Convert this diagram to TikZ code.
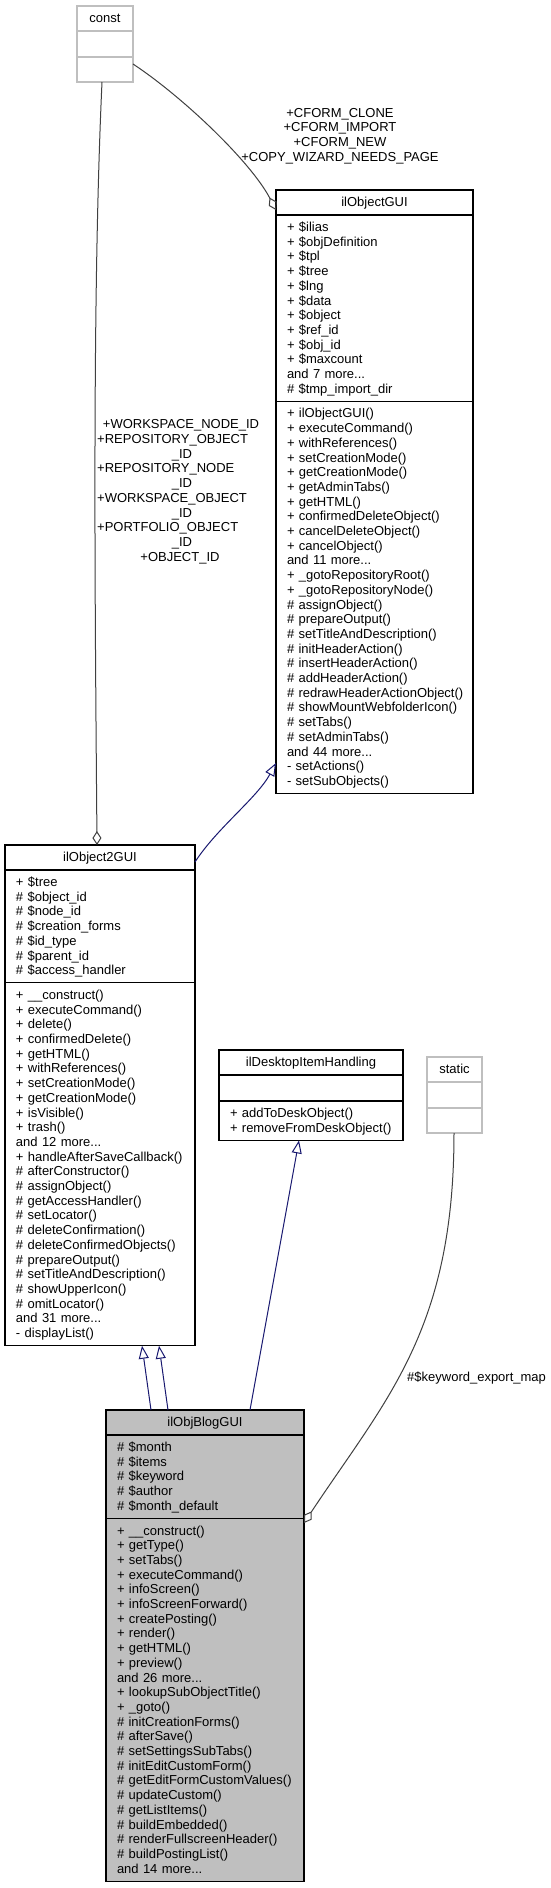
\documentclass[tikz,border=0pt]{standalone}
\usepackage{fontspec}
\setmainfont{Liberation Sans}
\usetikzlibrary{arrows.meta,calc}
\definecolor{edgeblue}{HTML}{191970}
\definecolor{edgegray}{HTML}{404040}
\definecolor{boxgray}{HTML}{BFBFBF}
\newcommand{\fsz}{\fontsize{13pt}{14.7pt}\selectfont}
\newcommand{\cs}{\rule[-3.2pt]{0pt}{14.7pt}}
\newcommand{\ml}[1]{\cs\mbox{#1}}
\begin{document}
\begin{tikzpicture}[x=1pt,y=-1pt,
  sect/.style={draw=black, line width=1.1pt, fill=white, rectangle, anchor=north west,
    inner xsep=11pt, inner ysep=5pt, outer sep=0pt, align=left, font=\fsz, text width=#1},
  ttl/.style={sect=#1, align=center, minimum height=25pt},
  gsect/.style={draw=boxgray, line width=1.1pt, fill=white, rectangle, anchor=north west,
    inner sep=0pt, outer sep=0pt, minimum width=#1},
  gttl/.style={draw=boxgray, line width=1.1pt, fill=white, rectangle, anchor=north west,
    inner xsep=0pt, inner ysep=5pt, outer sep=0pt, align=center, font=\fsz, text width=#1,
    minimum height=25pt},
  esect/.style={draw=black, line width=1.1pt, fill=white, rectangle, anchor=north west,
    inner sep=0pt, outer sep=0pt, minimum width=#1},
  cur/.style={fill=boxgray},
  usage/.style={draw=edgegray, line width=1pt, -{Diamond[open, length=14pt, width=9pt]}},
  inherit/.style={draw=edgeblue, line width=1pt, -{Triangle[open, length=13pt, width=10pt]}},
  lbl/.style={font=\fsz, inner sep=0pt, anchor=base},
  lblw/.style={font=\fsz, inner sep=0pt, anchor=base west}
]
\useasboundingbox (0,0) rectangle (551,1888);
\fill[white] (0,0) rectangle (551,1888);

% const
\node[gttl=56pt] (const-t) at (77,6) {\ml{const}};
\node[gsect=56pt, minimum height=26pt] (const-a) at (const-t.south west) {};
\node[gsect=56pt, minimum height=25pt] (const-m) at (const-a.south west) {};

% ilObjectGUI
\node[ttl=175pt] (ogui-t) at (276,190) {\ml{ilObjectGUI}};
\node[sect=175pt] (ogui-a) at (ogui-t.south west) {%
\ml{+ \$ilias}\\
\ml{+ \$objDefinition}\\
\ml{+ \$tpl}\\
\ml{+ \$tree}\\
\ml{+ \$lng}\\
\ml{+ \$data}\\
\ml{+ \$object}\\
\ml{+ \$ref\_id}\\
\ml{+ \$obj\_id}\\
\ml{+ \$maxcount}\\
\ml{and 7 more...}\\
\ml{\# \$tmp\_import\_dir}};
\node[sect=175pt] (ogui-m) at (ogui-a.south west) {%
\ml{+ ilObjectGUI()}\\
\ml{+ executeCommand()}\\
\ml{+ withReferences()}\\
\ml{+ setCreationMode()}\\
\ml{+ getCreationMode()}\\
\ml{+ getAdminTabs()}\\
\ml{+ getHTML()}\\
\ml{+ confirmedDeleteObject()}\\
\ml{+ cancelDeleteObject()}\\
\ml{+ cancelObject()}\\
\ml{and 11 more...}\\
\ml{+ \_gotoRepositoryRoot()}\\
\ml{+ \_gotoRepositoryNode()}\\
\ml{\# assignObject()}\\
\ml{\# prepareOutput()}\\
\ml{\# setTitleAndDescription()}\\
\ml{\# initHeaderAction()}\\
\ml{\# insertHeaderAction()}\\
\ml{\# addHeaderAction()}\\
\ml{\# redrawHeaderActionObject()}\\
\ml{\# showMountWebfolderIcon()}\\
\ml{\# setTabs()}\\
\ml{\# setAdminTabs()}\\
\ml{and 44 more...}\\
\ml{- setActions()}\\
\ml{- setSubObjects()}};

% ilObject2GUI
\node[ttl=168pt] (o2-t) at (5,845) {\ml{ilObject2GUI}};
\node[sect=168pt] (o2-a) at (o2-t.south west) {%
\ml{+ \$tree}\\
\ml{\# \$object\_id}\\
\ml{\# \$node\_id}\\
\ml{\# \$creation\_forms}\\
\ml{\# \$id\_type}\\
\ml{\# \$parent\_id}\\
\ml{\# \$access\_handler}};
\node[sect=168pt] (o2-m) at (o2-a.south west) {%
\ml{+ \_\_construct()}\\
\ml{+ executeCommand()}\\
\ml{+ delete()}\\
\ml{+ confirmedDelete()}\\
\ml{+ getHTML()}\\
\ml{+ withReferences()}\\
\ml{+ setCreationMode()}\\
\ml{+ getCreationMode()}\\
\ml{+ isVisible()}\\
\ml{+ trash()}\\
\ml{and 12 more...}\\
\ml{+ handleAfterSaveCallback()}\\
\ml{\# afterConstructor()}\\
\ml{\# assignObject()}\\
\ml{\# getAccessHandler()}\\
\ml{\# setLocator()}\\
\ml{\# deleteConfirmation()}\\
\ml{\# deleteConfirmedObjects()}\\
\ml{\# prepareOutput()}\\
\ml{\# setTitleAndDescription()}\\
\ml{\# showUpperIcon()}\\
\ml{\# omitLocator()}\\
\ml{and 31 more...}\\
\ml{- displayList()}};

% ilDesktopItemHandling
\node[ttl=162pt] (desk-t) at (219,1050) {\ml{ilDesktopItemHandling}};
\node[esect=184pt, minimum height=26pt] (desk-a) at (desk-t.south west) {};
\node[sect=162pt] (desk-m) at (desk-a.south west) {%
\ml{+ addToDeskObject()}\\
\ml{+ removeFromDeskObject()}};

% static
\node[gttl=55pt] (static-t) at (427,1057) {\ml{static}};
\node[gsect=55pt, minimum height=26pt] (static-a) at (static-t.south west) {};
\node[gsect=55pt, minimum height=25pt] (static-m) at (static-a.south west) {};

% ilObjBlogGUI
\node[ttl=176pt, cur] (blog-t) at (106,1410) {\ml{ilObjBlogGUI}};
\node[sect=176pt, cur] (blog-a) at (blog-t.south west) {%
\ml{\# \$month}\\
\ml{\# \$items}\\
\ml{\# \$keyword}\\
\ml{\# \$author}\\
\ml{\# \$month\_default}};
\node[sect=176pt, cur] (blog-m) at (blog-a.south west) {%
\ml{+ \_\_construct()}\\
\ml{+ getType()}\\
\ml{+ setTabs()}\\
\ml{+ executeCommand()}\\
\ml{+ infoScreen()}\\
\ml{+ infoScreenForward()}\\
\ml{+ createPosting()}\\
\ml{+ render()}\\
\ml{+ getHTML()}\\
\ml{+ preview()}\\
\ml{and 26 more...}\\
\ml{+ lookupSubObjectTitle()}\\
\ml{+ \_goto()}\\
\ml{\# initCreationForms()}\\
\ml{\# afterSave()}\\
\ml{\# setSettingsSubTabs()}\\
\ml{\# initEditCustomForm()}\\
\ml{\# getEditFormCustomValues()}\\
\ml{\# updateCustom()}\\
\ml{\# getListItems()}\\
\ml{\# buildEmbedded()}\\
\ml{\# renderFullscreenHeader()}\\
\ml{\# buildPostingList()}\\
\ml{and 14 more...}};

% connectors
\draw[usage] ($(const-m.north east)+(0,7)$) .. controls +(50,33) and +(-25,-48) .. ($(ogui-t.west)+(0,7.5)$);
\draw[usage] ($(const-m.south west)+(25,0)$) .. controls +(-10,218) and +(-2,-245) .. ($(o2-t.north west)+(92,0)$);
\draw[inherit] ($(o2-t.east)+(0,4.5)$) .. controls +(22,-34) and +(-19,35) .. ($(ogui-m.south west)+(0,-30.6)$);
\draw[inherit] ($(blog-t.north west)+(45,0)$) -- ($(o2-m.south west)+(137,0)$);
\draw[inherit] ($(blog-t.north west)+(62,0)$) -- ($(o2-m.south west)+(154,0)$);
\draw[inherit] ($(blog-t.north west)+(144,0)$) -- ($(desk-m.south west)+(80,0)$);
\draw[usage] ($(static-m.south west)+(27,0)$) .. controls +(0,197) and +(82.5,-124.5) .. ($(blog-m.north east)+(0,4.5)$);

% edge labels
\node[lbl] (c1) at (340,117.1) {+CFORM\_CLONE};
\node[lbl] (c2) at (340,131.8) {+CFORM\_IMPORT};
\node[lbl] (c3) at (340,146.5) {+CFORM\_NEW};
\node[lbl] (c4) at (340,161.2) {+COPY\_WIZARD\_NEEDS\_PAGE};

\node[lbl]  (w1)  at (181,428.8) {+WORKSPACE\_NODE\_ID};
\node[lblw] (w2)  at (97,443.5) {+REPOSITORY\_OBJECT};
\node[lbl]  (w3)  at (182,458.2) {\_ID};
\node[lblw] (w4)  at (97,472.9) {+REPOSITORY\_NODE};
\node[lbl]  (w5)  at (182,487.6) {\_ID};
\node[lblw] (w6)  at (97,502.3) {+WORKSPACE\_OBJECT};
\node[lbl]  (w7)  at (182,517.0) {\_ID};
\node[lblw] (w8)  at (97,531.7) {+PORTFOLIO\_OBJECT};
\node[lbl]  (w9)  at (182,546.4) {\_ID};
\node[lbl]  (w10) at (180,561.1) {+OBJECT\_ID};

\node[lblw] (kw) at (407,1381.8) {\#\$keyword\_export\_map};
\end{tikzpicture}
\end{document}
